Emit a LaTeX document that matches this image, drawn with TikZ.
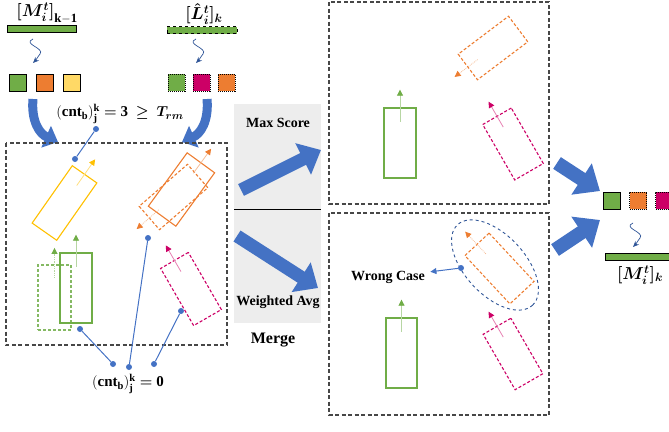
\documentclass[tikz,border=0pt]{standalone}
\usepackage{amsmath}
\usepackage{fontspec}
\setmainfont{Liberation Serif}
\usetikzlibrary{arrows.meta,calc}
\usetikzlibrary{shapes.geometric}
\usetikzlibrary{positioning}
\definecolor{grn}{HTML}{70AD47}
\definecolor{org}{HTML}{ED7D31}
\definecolor{ylw}{HTML}{FFC000}
\definecolor{ylwfill}{HTML}{FFD966}
\definecolor{mag}{HTML}{CC0066}
\definecolor{blu}{HTML}{4472C4}
\definecolor{dblu}{HTML}{2F5597}
\tikzset{
    %Define standard arrow tip
    >={Triangle[width=6pt,length=6pt]},
    %Define style for dashed frames
    panel/.style={draw=black!72, line width=1.1pt, dash pattern=on 4pt off 2.5pt},
    %Define style for boxes
    bbox/.style={rectangle, line width=1.1pt, inner sep=0pt},
    dbox/.style={bbox, dash pattern=on 3pt off 2pt},
    sq/.style={rectangle, draw=black, line width=1pt, minimum size=17pt, inner sep=0pt},
    gbar/.style={rectangle, draw=black, line width=1pt, fill=grn, minimum height=7pt, inner sep=0pt},
    % Define arrow styles
    hd/.style={-{Triangle[width=6pt,length=6pt,color=#1]}, draw=#1!50, line width=0.8pt},
    squig/.style={-{Stealth[width=5pt,length=6pt]}, draw=dblu, line width=0.7pt},
    bigarr/.style={draw=blu, line width=13pt, -{Triangle[width=34pt,length=20pt]}},
    curvarr/.style={draw=blu, line width=9pt, -{Triangle[width=23pt,length=13pt]}},
    pinline/.style={draw=blu, line width=1pt},
    pindot/.style={circle, fill=blu, inner sep=0pt, minimum size=6pt},
    % Define label styles
    lbl/.style={font=\bfseries\fontsize{14}{16}\selectfont},
    mlbl/.style={font=\fontsize{18}{20}\selectfont, inner sep=1pt},
    clbl/.style={font=\fontsize{15}{17}\selectfont, inner sep=1pt}
}
\newcommand{\headarr}[4][]{\draw[hd=#2,#1] ($(#3.center)!0.6!(#3.#4)$) -- ($(#3.center)!1.5!(#3.#4)$);}
\newcommand{\wavyarr}[2]{\draw[squig,shift={(#1,#2)}] (0,0) .. controls (-11,5) and (12,9) .. (7,15) .. controls (4,19) and (3,21) .. (0,24);}
\begin{document}
\begin{tikzpicture}[x=1pt,y=-1pt]
 \useasboundingbox (0,0) rectangle (669,431);

 %Inputs
 \node[gbar,minimum width=69pt] (mk) at (41.5,29) {};
 \node[mlbl] (mklab) at (47,13) {$\boldsymbol{[M_i^t]}_{\mathbf{k-1}}$};
 \wavyarr{33}{39}
 \node[sq,fill=grn] (m1) at (17.5,82.5) {};
 \node[sq,fill=org,right=9pt of m1] (m2) {};
 \node[sq,fill=ylwfill,right=9pt of m2] (m3) {};

 \node[gbar,dashed,minimum width=70pt] (lk) at (202,30) {};
 \node[mlbl] (lklab) at (204,14) {$\boldsymbol{[\hat{L}_i^t]_k}$};
 \wavyarr{196}{39}
 \node[sq,densely dotted,fill=grn] (l1) at (176.5,82.5) {};
 \node[sq,densely dotted,fill=mag,right=7pt of l1] (l2) {};
 \node[sq,densely dotted,fill=org,right=7pt of l2] (l3) {};

 \coordinate (ca1) at (33,99);
 \coordinate (ca2) at (58,142);
 \coordinate (cb1) at (207,99);
 \coordinate (cb2) at (182,142);
 \draw[curvarr] (ca1) .. controls (31,122) and (40,134) .. (ca2);
 \draw[curvarr] (cb1) .. controls (209,122) and (200,134) .. (cb2);
 \node[clbl] (cnt3) at (120,114) {$(\mathbf{cnt_b})_{\mathbf{j}}^{\mathbf{k}} \boldsymbol{=} \mathbf{3}\ \boldsymbol{\geq}\ \boldsymbol{T_{rm}}$};

 %Tracks before merging
 \draw[panel] (6,143) rectangle (227,345);
 \node[bbox,draw=ylw,minimum width=30pt,minimum height=70pt,rotate=-35] (yb) at (64.5,203) {};
 \node[bbox,draw=org,minimum width=34pt,minimum height=66pt,rotate=-36] (ob) at (181.5,189.5) {};
 \node[dbox,draw=org,minimum width=31pt,minimum height=64pt,rotate=-49] (od) at (173.5,197) {};
 \node[dbox,draw=grn!85,minimum width=33pt,minimum height=65pt] (gd) at (54.5,297.5) {};
 \node[bbox,draw=grn,minimum width=32pt,minimum height=70pt] (gb) at (76,288) {};
 \node[dbox,draw=mag,minimum width=32pt,minimum height=66pt,rotate=30] (pd) at (191,289) {};
 \headarr{ylw}{yb}{north}
 \headarr{org}{ob}{north}
 \headarr[densely dotted]{org}{od}{south}
 \headarr[densely dotted]{grn}{gd}{north}
 \headarr{grn}{gb}{north}
 \headarr{mag}{pd}{north}

 \node[pindot] (t1) at (75,159) {};
 \node[pindot] (t2) at (96,129) {};
 \draw[pinline] (t1) -- (t2);
 \node[pindot] (z1) at (80,329) {};
 \node[pindot] (z2) at (148,238) {};
 \node[pindot] (z3) at (181,311) {};
 \node[pindot] (b1) at (113,364) {};
 \node[pindot] (b2) at (129,367) {};
 \node[pindot] (b3) at (154,364) {};
 \draw[pinline] (z1) -- (b1);
 \draw[pinline] (z2) -- (b2);
 \draw[pinline] (z3) -- (b3);
 \node[clbl] (cnt0) at (128,384) {$(\mathbf{cnt_b})_{\mathbf{j}}^{\mathbf{k}} \boldsymbol{=} \mathbf{0}$};

 %Merge
 \fill[black!7] (234,104) rectangle (321,323);
 \draw[line width=1pt] (234,209) -- (321,209);
 \node[lbl] (ms) at (278,123) {Max Score};
 \node[lbl] (wa) at (278,302) {Weighted Avg};
 \node[lbl,font=\bfseries\fontsize{16}{18}\selectfont] (mg) at (273,340) {Merge};
 \coordinate (u1) at (241,190);
 \coordinate (u2) at (321,150);
 \coordinate (w1) at (237,236);
 \coordinate (w2) at (318,288);
 \draw[bigarr] (u1) -- (u2);
 \draw[bigarr] (w1) -- (w2);

 %Max score result
 \draw[panel] (329,2) rectangle (549,204);
 \node[bbox,draw=grn,minimum width=32pt,minimum height=70pt] (tg) at (400,143) {};
 \node[dbox,draw=org,minimum width=32pt,minimum height=63pt,rotate=-53] (to) at (493,48) {};
 \node[dbox,draw=mag,minimum width=33pt,minimum height=64pt,rotate=30] (tp) at (513,144) {};
 \headarr{grn}{tg}{north}
 \headarr[densely dotted]{org}{to}{south}
 \headarr{mag}{tp}{north}

 %Weighted average result
 \draw[panel] (329,213) rectangle (549,415);
 \node[bbox,draw=grn,minimum width=31pt,minimum height=70pt] (bg) at (401.5,353) {};
 \node[dbox,draw=org,minimum width=33pt,minimum height=66pt,rotate=43] (bo) at (499.5,268.5) {};
 \node[dbox,draw=mag,minimum width=32pt,minimum height=64pt,rotate=30] (bp) at (513,354) {};
 \headarr{grn}{bg}{north}
 \headarr[densely dotted]{org}{bo}{north}
 \headarr{mag}{bp}{north}
 \node[ellipse,draw=dblu,dashed,line width=0.9pt,minimum width=110pt,minimum height=60pt,rotate=-47] (wc) at (495,265) {};
 \node[pindot] (wd) at (461,268) {};
 \node[lbl] (wt) at (388,277) {Wrong Case};
 \draw[pinline,->,shorten >=2pt] (wd) -- (wt);

 %Output
 \coordinate (r1) at (557,163);
 \coordinate (r2) at (600,191);
 \coordinate (s1) at (555,250);
 \coordinate (s2) at (600,220);
 \draw[bigarr,line width=14pt,-{Triangle[width=36pt,length=22pt]}] (r1) -- (r2);
 \draw[bigarr,line width=14pt,-{Triangle[width=36pt,length=22pt]}] (s1) -- (s2);
 \node[sq,fill=grn] (o1) at (612,200.5) {};
 \node[sq,densely dotted,fill=org,right=8pt of o1] (o2) {};
 \node[sq,densely dotted,fill=mag,right=8pt of o2] (o3) {};
 \wavyarr{633}{223}
 \node[gbar,minimum width=70pt] (mo) at (640,256.5) {};
 \node[mlbl] (molab) at (640,275) {$\boldsymbol{[M_i^t]_k}$};
\end{tikzpicture}
\end{document}
